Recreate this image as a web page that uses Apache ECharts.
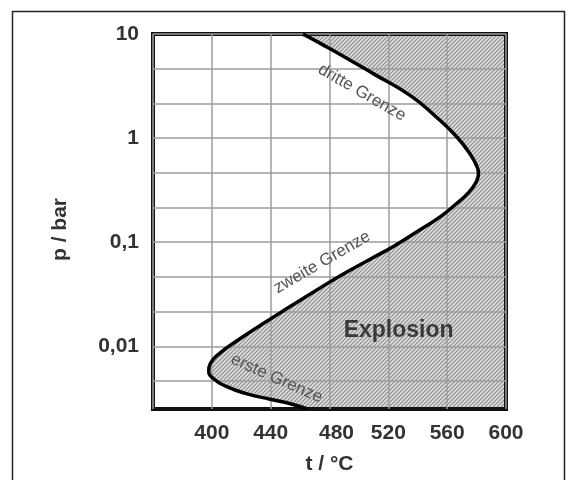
<!DOCTYPE html>
<html>
<head>
<meta charset="utf-8">
<script src="https://cdn.jsdelivr.net/npm/echarts@6/dist/echarts.min.js"></script>
<style>
  html, body { margin: 0; padding: 0; background: #fff; }
  #chart { width: 566px; height: 480px; }
</style>
</head>
<body>
<div id="chart"></div>
<script>
const tempMin = 360;
const tempMax = 600;
const pressureMin = 0.0025;
const pressureMax = 10;
const pressureLabels = [0.01, 0.1, 1, 10];
const pressureGrid = [0.00464, 0.01, 0.0215, 0.0464, 0.1, 0.215, 0.464, 1, 2.15, 4.64, 10];

// explosion limit curve, read from the top (10 bar) down to the bottom edge
const limitTemp = [462, 475, 487, 510, 535, 552, 566, 575.5, 580.3, 581.3, 579.6, 574.2, 566, 555.2, 541.6, 524.6, 507.6, 490.6, 473.6, 453.2, 434.2, 417.9, 405.7, 398.9, 397.9, 401, 409.8, 422.7, 439.7, 454.6, 465];
const limitPressure = [10, 7.95, 6.4, 4.14, 2.56, 1.62, 1.047, 0.707, 0.532, 0.457, 0.376, 0.296, 0.233, 0.175, 0.132, 0.0931, 0.0686, 0.0505, 0.0364, 0.0241, 0.0163, 0.0115, 0.00864, 0.0068, 0.00584, 0.0049, 0.00412, 0.00353, 0.0031, 0.00278, 0.0025];

const noteText = ["dritte Grenze", "zweite Grenze", "erste Grenze", "Explosion"];
const noteTemp = [502, 475, 444, 527];
const notePressure = [2.73, 0.064, 0.0049, 0.014];
const noteAngle = [-30, 30, -24, 0];

const FONT = "'Liberation Sans', Arial, sans-serif";
const INK = "#333";

function hatchPattern() {
  const c = document.createElement("canvas");
  c.width = 4;
  c.height = 4;
  const g = c.getContext("2d");
  g.fillStyle = "#dcdcdc";
  g.fillRect(0, 0, 4, 4);
  g.strokeStyle = "#8e8e8e";
  g.lineWidth = 1.1;
  g.beginPath();
  g.moveTo(0, 4); g.lineTo(4, 0);
  g.moveTo(-1, 1); g.lineTo(1, -1);
  g.moveTo(3, 5); g.lineTo(5, 3);
  g.stroke();
  return c;
}

const chart = echarts.init(document.getElementById("chart"));
const hatch = hatchPattern();

chart.setOption({
  animation: false,
  graphic: [{
    type: "rect",
    shape: { x: 12.5, y: 11.5, width: 552, height: 480 },
    style: { fill: null, stroke: "#222", lineWidth: 1.5 },
    silent: true
  }],
  grid: {
    left: 153, right: 60, top: 34, bottom: 66,
    show: true, borderColor: "#111", borderWidth: 4
  },
  xAxis: {
    type: "value",
    min: tempMin, max: tempMax, interval: 40,
    name: "t / °C",
    nameLocation: "middle",
    nameGap: 45,
    nameTextStyle: { fontFamily: FONT, fontSize: 21, fontWeight: "bold", color: INK },
    axisLine: { show: false },
    axisTick: { show: false },
    splitLine: { lineStyle: { color: "#9d9d9d", width: 1.5 } },
    axisLabel: {
      margin: 14,
      fontFamily: FONT, fontSize: 21, fontWeight: "bold", color: INK,
      formatter: (v) => v === tempMin ? "" : (v === 480 ? "{s|480}" : String(v)),
      rich: { s: { padding: [0, 0, 0, 14], fontFamily: FONT, fontSize: 21, fontWeight: "bold", color: INK } }
    }
  },
  yAxis: {
    type: "log", logBase: 10,
    min: pressureMin, max: pressureMax,
    name: "p / bar",
    nameLocation: "middle",
    nameGap: 82,
    nameTextStyle: { fontFamily: FONT, fontSize: 21, fontWeight: "bold", color: INK, padding: [0, 16, 0, 0] },
    axisLine: { show: false },
    axisTick: { show: false, customValues: pressureGrid },
    splitLine: { lineStyle: { color: "#9d9d9d", width: 1.5 } },
    axisLabel: {
      customValues: pressureLabels,
      margin: 14,
      fontFamily: FONT, fontSize: 21, fontWeight: "bold", color: INK,
      formatter: (v) => String(v).replace(".", ",")
    }
  },
  series: [
    {
      // hatched explosion region, right of the limit curve
      type: "custom",
      z: -1,
      clip: true,
      silent: true,
      data: [0],
      renderItem: (params, api) => {
        const pts = limitTemp.map((t, i) => api.coord([t, limitPressure[i]]));
        const br = api.coord([tempMax, pressureMin]);
        const tr = api.coord([tempMax, pressureMax]);
        pts.push([br[0] + 20, br[1] + 20], [tr[0] + 20, tr[1] - 20]);
        return {
          type: "polygon",
          shape: { points: pts, smooth: 0.5 },
          style: { fill: { image: hatch, repeat: "repeat" }, stroke: null }
        };
      }
    },
    {
      type: "line",
      data: limitTemp.map((t, i) => [t, limitPressure[i]]),
      smooth: 0.5,
      symbol: "none",
      lineStyle: { color: "#000", width: 3.5 },
      z: 3
    },
    {
      type: "custom",
      silent: true,
      z: 4,
      data: noteTemp.map((t, i) => [t, notePressure[i]]),
      renderItem: (params, api) => {
        const i = params.dataIndex;
        const p = api.coord([api.value(0), api.value(1)]);
        const big = noteText[i] === "Explosion";
        return {
          type: "text",
          x: p[0], y: p[1],
          rotation: noteAngle[i] * Math.PI / 180,
          style: {
            text: noteText[i],
            align: "center", verticalAlign: "middle",
            font: (big ? "bold 23px " : "17px ") + FONT,
            fill: big ? "#3a3a3a" : "#555"
          }
        };
      }
    }
  ]
});
</script>
</body>
</html>
